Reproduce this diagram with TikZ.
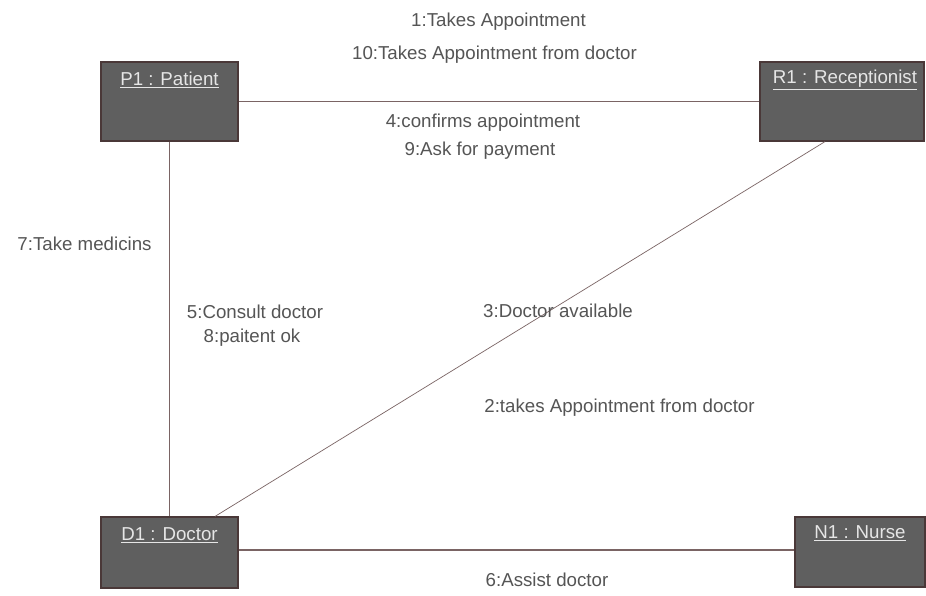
\documentclass[tikz,border=0pt]{standalone}
\usepackage{fontspec}
\setmainfont{Liberation Sans}
\definecolor{boxfill}{HTML}{5F5F5F}
\definecolor{boxedge}{HTML}{4A3838}
\definecolor{linecol}{HTML}{7A6464}
\definecolor{txtcol}{HTML}{555555}
\definecolor{lblcol}{HTML}{E6E6E6}
\begin{document}
\begin{tikzpicture}[x=1pt,y=-1pt,
  objbox/.style={draw=boxedge,fill=boxfill,line width=1.2pt,inner sep=0pt},
  objname/.style={text=lblcol,font=\fontsize{18.7}{22}\selectfont,inner sep=0pt},
  msg/.style={text=txtcol,font=\fontsize{18.7}{22}\selectfont,inner sep=0pt},
  conn/.style={draw=linecol,line width=1.1pt}]
\useasboundingbox[fill=white] (0,0) rectangle (926,595);
% objects
\node[objbox,minimum width=137pt,minimum height=79pt] (p1) at (169.5,101.5) {};
\node[objbox,minimum width=164pt,minimum height=79pt] (r1) at (842,101.5) {};
\node[objbox,minimum width=137pt,minimum height=71pt] (d1) at (169.5,552.5) {};
\node[objbox,minimum width=130pt,minimum height=70pt] (n1) at (860,552) {};
\node[objname] (p1t) at (169.5,80) {\underline{P1 : Patient}};
\node[objname] (r1t) at (845,80) {\underline{R1 : Receptionist}};
\node[objname] (d1t) at (169.5,535) {\underline{D1 : Doctor}};
\node[objname] (n1t) at (860,533) {\underline{N1 : Nurse}};
% connectors
\draw[conn] (p1.east) -- (r1.west);
\draw[conn] (p1.south) -- (d1.north);
\draw[conn] ([yshift=2.5pt]d1.east) -- ([yshift=2.5pt]d1.east -| n1.west);
\draw[conn,line width=0.7pt] ([xshift=-17pt]r1.south) -- ([xshift=45.5pt]d1.north);
% messages
\node[msg] (m1) at (498.5,22) {1:Takes Appointment};
\node[msg] (m10) at (494.5,55) {10:Takes Appointment from doctor};
\node[msg] (m4) at (483,123) {4:confirms appointment};
\node[msg] (m9) at (480,151) {9:Ask for payment};
\node[msg] (m7) at (84.5,244) {7:Take medicins};
\node[msg] (m5) at (255,312) {5:Consult doctor};
\node[msg] (m8) at (252,338) {8:paitent ok};
\node[msg] (m3) at (558,311) {3:Doctor available};
\node[msg] (m2) at (619.5,408) {2:takes Appointment from doctor};
\node[msg] (m6) at (547,580) {6:Assist doctor};
\end{tikzpicture}
\end{document}
